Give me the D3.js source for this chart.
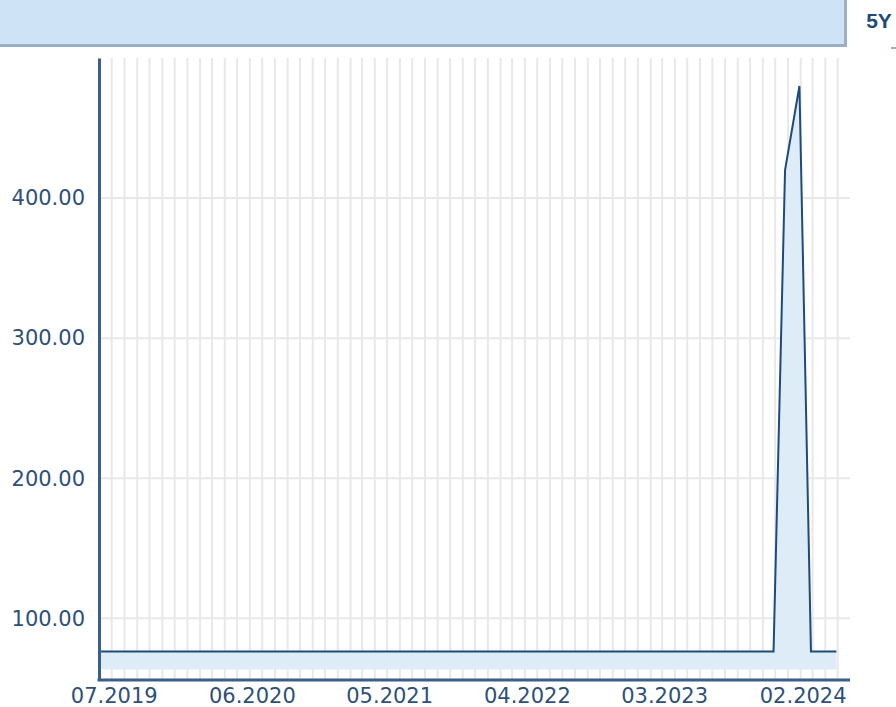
<!DOCTYPE html>
<html>
  <head>
    <meta charset="utf-8">
    <title>5Y price chart</title>
    <script src="https://d3js.org/d3.v7.min.js"></script>
  </head>
  <style>
    body { margin: 0; background: #fff; }
    .grid { stroke: #e8e8e8; stroke-width: 2; }
    .area { fill: #deecf8; }
    .priceLine { fill: none; stroke: #1e4b7a; stroke-width: 2; }
    .axis path { stroke: #3b5e8b; stroke-width: 3; }
    .axis text { font-family: "DejaVu Sans", Verdana, sans-serif; font-size: 21px; fill: #2e5079; }
  </style>
  <body>
    <script type="text/javascript">
        // data
        const dates = ["2019-05-31", "2023-11-27", "2023-12-25", "2024-01-29", "2024-02-26", "2024-04-28"];
        const prices = [76.3, 76.3, 420, 480, 76.3, 76.3];
        const yTicks = [100, 200, 300, 400];
        const xTicks = ["2019-07-01", "2020-06-01", "2021-05-01", "2022-04-01", "2023-03-01", "2024-02-01"];
        const range = "5Y";

        var width = 896;
        var height = 707;
        const parse = d3.utcParse("%Y-%m-%d");
        const data = dates.map((d, i) => ({date: parse(d), value: prices[i]}));

        const svg = d3.select('body').append('svg').attr('width', width).attr('height', height);

        // header bar + tab
        svg.append('rect').attr('x', 0).attr('y', 0).attr('width', 845).attr('height', 45).attr('fill', '#cfe3f7');
        svg.append('line').attr('x1', 0).attr('x2', 846.5).attr('y1', 45.5).attr('y2', 45.5).attr('stroke', '#9aaec4').attr('stroke-width', 3);
        svg.append('line').attr('x1', 845.5).attr('x2', 845.5).attr('y1', 0).attr('y2', 47).attr('stroke', '#9aaec4').attr('stroke-width', 3);
        svg.append('line').attr('x1', 891).attr('x2', 896).attr('y1', 48).attr('y2', 48).attr('stroke', '#9aaec4').attr('stroke-width', 2);
        svg.append('text').attr('x', 879).attr('y', 28).attr('text-anchor', 'middle')
          .attr('font-family', '"Liberation Sans", Arial, sans-serif').attr('font-weight', 'bold')
          .attr('font-size', 21).attr('fill', '#1d4a7a').text(range);

        const x = d3.scaleUtc().domain([parse("2019-05-31"), parse("2024-05-31")]).range([99, 850]);
        const y = d3.scaleLinear().domain([56, 500]).range([680, 58]);

        // grid
        const gGrid = svg.append('g');
        gGrid.selectAll('line.v').data(d3.utcMonth.range(x.domain()[0], x.domain()[1])).enter()
          .append('line').attr('class', 'grid v')
          .attr('x1', d => x(d)).attr('x2', d => x(d)).attr('y1', 58).attr('y2', 680);
        gGrid.selectAll('line.h').data(yTicks).enter()
          .append('line').attr('class', 'grid h')
          .attr('x1', 99).attr('x2', 850).attr('y1', d => y(d)).attr('y2', d => y(d));

        // area + line
        const area = d3.area().x(d => x(d.date)).y0(y(63.5)).y1(d => y(d.value));
        const line = d3.line().x(d => x(d.date)).y(d => y(d.value));
        svg.append('path').datum(data).attr('class', 'area').attr('d', area);
        svg.append('path').datum(data).attr('class', 'priceLine').attr('d', line);

        // axes
        const yAxis = svg.append('g').attr('class', 'axis').attr('transform', 'translate(99,0)')
          .call(d3.axisLeft(y).tickValues(yTicks).tickSize(0).tickSizeOuter(0).tickPadding(14).tickFormat(d3.format('.2f')));
        const xAxis = svg.append('g').attr('class', 'axis').attr('transform', 'translate(0,680)')
          .call(d3.axisBottom(x).tickValues(xTicks.map(parse)).tickSize(0).tickSizeOuter(0).tickFormat(d3.utcFormat('%m.%Y')));
        xAxis.selectAll('text').attr('x', 2).attr('y', 23).attr('dy', 0);
        xAxis.select('.domain').attr('d', 'M97.5,0H850');
    </script>
  </body>
</html>
